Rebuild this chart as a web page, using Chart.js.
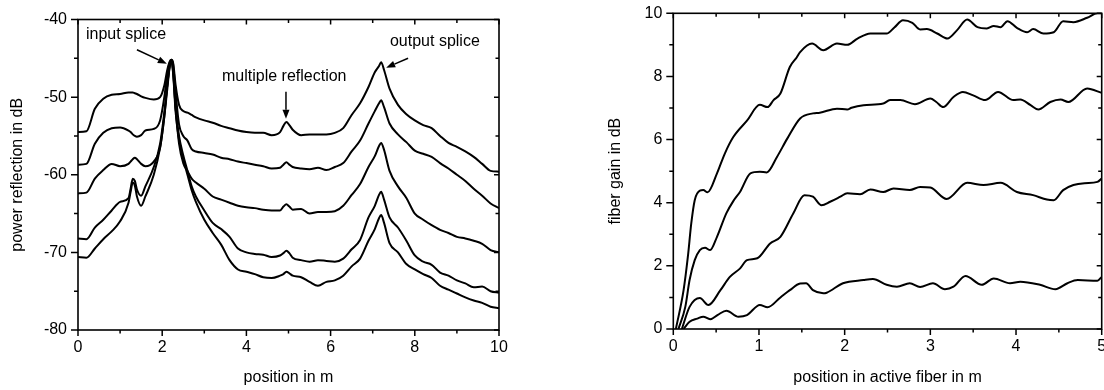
<!DOCTYPE html>
<html><head><meta charset="utf-8">
<script src="https://cdn.jsdelivr.net/npm/chart.js@4"></script>
<style>
html,body{margin:0;padding:0;background:#fff;}
#wrap{position:relative;width:1104px;height:390px;overflow:hidden;background:#fff;}
canvas{position:absolute;top:0;}
</style></head><body>
<div id="wrap"><canvas id="c1" width="552" height="390" style="left:0"></canvas><canvas id="c2" width="552" height="390" style="left:552px"></canvas></div>
<script>
// ---------- Left chart: power reflection vs position ----------
const refX = [0,0.2,0.4,0.6,0.8,1.0,1.2,1.25,1.3,1.35,1.4,1.5,1.6,1.8,1.95,2.05,2.12,2.18,2.22,2.26,2.32,2.4,2.5,2.6,2.7,2.8,3.0,3.2,3.4,3.6,3.8,4.0,4.2,4.4,4.6,4.8,4.88,4.95,5.02,5.1,5.3,5.5,5.7,5.9,6.1,6.3,6.5,6.7,6.9,7.05,7.15,7.2,7.27,7.4,7.6,7.8,8.0,8.2,8.4,8.6,8.8,9.0,9.2,9.4,9.6,9.8,10];
const refC1 = [-54.5,-54.4,-51.5,-50.2,-49.7,-49.6,-49.4,-49.4,-49.4,-49.5,-49.6,-49.9,-50.1,-50.3,-50.0,-48.5,-46.5,-45.4,-45.2,-45.6,-48.5,-51.0,-51.8,-52.0,-52.3,-52.6,-53.0,-53.3,-53.7,-54.0,-54.3,-54.5,-54.6,-54.6,-54.9,-54.5,-53.7,-53.2,-53.6,-54.2,-54.9,-54.8,-54.8,-54.8,-54.6,-54.0,-52.3,-50.8,-48.7,-46.8,-46.0,-45.5,-46.5,-48.9,-51.0,-52.2,-53.0,-53.6,-54.0,-55.0,-55.9,-56.4,-57.0,-57.7,-58.6,-59.5,-59.6];
const refC2 = [-58.7,-58.6,-56.0,-54.6,-54.0,-53.9,-54.3,-54.5,-54.8,-55.0,-55.1,-54.9,-54.3,-54.1,-53.0,-50.0,-47.0,-45.5,-45.2,-45.8,-49.5,-53.5,-55.0,-55.6,-56.7,-57.0,-57.2,-57.4,-57.8,-58.0,-58.3,-58.5,-58.7,-58.9,-59.2,-59.1,-58.7,-58.4,-58.7,-59.0,-59.2,-59.3,-59.1,-59.4,-59.0,-58.5,-57.0,-55.6,-53.4,-51.8,-50.8,-50.4,-51.3,-53.4,-54.8,-55.8,-56.9,-57.3,-57.7,-58.5,-59.2,-60.0,-60.8,-61.8,-62.7,-63.7,-64.3];
const refC3 = [-62.4,-62.3,-60.5,-59.4,-58.6,-58.9,-58.6,-58.3,-58.0,-57.8,-58.0,-58.6,-58.9,-58.3,-56.5,-52.5,-48.5,-45.8,-45.3,-46.5,-51.5,-56.0,-58.5,-59.5,-60.5,-61.0,-61.8,-62.8,-63.2,-63.6,-64.0,-64.2,-64.3,-64.5,-64.6,-64.6,-64.1,-63.8,-64.1,-64.5,-64.4,-65.0,-64.8,-64.8,-64.7,-64.0,-62.6,-61.2,-59.0,-57.6,-56.3,-55.9,-56.8,-59.5,-61.5,-63.0,-65.0,-65.8,-66.5,-67.1,-67.5,-68.0,-68.2,-68.5,-68.9,-69.7,-70.0];
const refC4 = [-68.2,-68.3,-66.8,-65.8,-64.6,-63.5,-63.0,-61.8,-60.5,-60.8,-61.9,-62.7,-61.5,-59.0,-56.0,-52.0,-48.5,-46.0,-45.3,-46.8,-51.5,-55.0,-57.5,-59.5,-61.5,-62.8,-64.6,-66.2,-67.0,-68.0,-69.5,-70.0,-70.2,-70.3,-70.6,-70.4,-70.1,-69.8,-70.1,-70.7,-71.0,-71.2,-71.0,-71.1,-71.2,-70.8,-69.6,-68.4,-65.5,-64.0,-62.6,-62.2,-63.2,-65.5,-66.8,-68.5,-70.4,-71.2,-71.6,-72.6,-73.0,-73.6,-74.0,-74.5,-74.4,-75.0,-75.2];
const refC5 = [-70.6,-70.7,-69.5,-68.3,-67.3,-66.0,-63.6,-62.2,-61.0,-61.4,-62.8,-64.0,-62.8,-60.0,-56.5,-52.5,-49.0,-46.0,-45.3,-47.0,-52.0,-55.5,-58.0,-60.0,-62.0,-63.5,-65.8,-67.5,-69.0,-71.0,-72.2,-72.5,-72.8,-73.2,-73.3,-73.0,-72.8,-72.5,-72.7,-73.0,-73.2,-73.8,-74.3,-73.8,-73.6,-73.0,-71.8,-70.8,-68.5,-67.0,-65.6,-65.2,-66.2,-68.8,-70.0,-71.5,-72.2,-72.8,-73.3,-74.3,-74.8,-75.3,-75.8,-76.2,-76.5,-77.0,-77.2];
const refSeries = [refC1, refC2, refC3, refC4, refC5];
const refNotes = [
  {text:'input splice', x:0.19, y:-42.0},
  {text:'multiple reflection', x:3.42, y:-47.4},
  {text:'output splice', x:7.41, y:-42.8}
];
const refArrows = [
  {x0:1.40, y0:-43.9, x1:2.11, y1:-45.7},
  {x0:4.94, y0:-49.3, x1:4.94, y1:-52.8},
  {x0:7.84, y0:-45.0, x1:7.32, y1:-46.2}
];

// ---------- Right chart: fiber gain vs position ----------
const gainXA = [0.03,0.12,0.17,0.21,0.25,0.31,0.35,0.4,0.51,0.6,0.7,0.86,1.01,1.1,1.17,1.25,1.36,1.44,1.48,1.62,1.75,1.91,2.03,2.15,2.3,2.49,2.58,2.68,2.79,2.88,2.96,3.08,3.2,3.31,3.43,3.55,3.66,3.74,3.82,3.9,4.01,4.13,4.2,4.32,4.44,4.55,4.67,4.83,4.95,5.0];
const gainYA = [0,1.23,2.29,3.35,4.08,4.38,4.4,4.33,4.93,5.55,6.08,6.6,7.1,7.03,7.25,7.46,8.3,8.6,8.77,9.04,8.83,9.04,9.0,9.2,9.36,9.36,9.55,9.78,9.7,9.49,9.5,9.36,9.2,9.46,9.8,9.56,9.52,9.6,9.56,9.75,9.54,9.4,9.5,9.36,9.4,9.75,9.72,9.86,10.0,10.0];
const gainXB = [0.06,0.14,0.19,0.25,0.31,0.37,0.43,0.51,0.62,0.7,0.78,0.9,1.01,1.09,1.21,1.33,1.48,1.63,1.71,1.91,2.03,2.08,2.22,2.45,2.53,2.65,2.82,3.0,3.07,3.15,3.27,3.38,3.5,3.64,3.79,3.97,4.05,4.17,4.26,4.4,4.52,4.61,4.83,5.0];
const gainYB = [0,0.7,1.55,2.18,2.5,2.57,2.5,2.92,3.67,4.05,4.35,4.93,4.98,4.96,5.45,6.03,6.67,6.83,6.85,6.98,6.95,7.01,7.09,7.14,7.25,7.25,7.12,7.3,7.19,7.03,7.35,7.51,7.4,7.25,7.51,7.25,7.27,7.09,6.95,7.19,7.27,7.19,7.62,7.48];
const gainXC = [0.1,0.19,0.31,0.41,0.55,0.66,0.78,0.86,0.98,1.13,1.25,1.4,1.53,1.63,1.73,1.83,1.95,2.03,2.18,2.3,2.45,2.57,2.76,2.88,3.0,3.19,3.43,3.62,3.82,4.01,4.2,4.36,4.44,4.55,4.67,4.8,4.95,5.0];
const gainYC = [0,0.7,0.98,0.76,1.23,1.65,1.92,2.18,2.24,2.71,2.92,3.66,4.24,4.19,3.92,4.03,4.19,4.3,4.27,4.42,4.34,4.45,4.4,4.5,4.48,4.12,4.63,4.56,4.63,4.34,4.24,4.1,4.08,4.4,4.56,4.62,4.66,4.77];
const gainXD = [0.12,0.19,0.28,0.35,0.43,0.52,0.62,0.76,0.86,1.01,1.1,1.25,1.36,1.48,1.55,1.63,1.75,1.79,1.98,2.22,2.33,2.49,2.61,2.76,2.88,3.03,3.17,3.27,3.41,3.6,3.74,3.93,4.05,4.28,4.46,4.6,4.72,4.95,5.0];
const gainYD = [0,0.23,0.33,0.39,0.31,0.45,0.58,0.39,0.44,0.76,0.69,1.0,1.23,1.44,1.45,1.23,1.13,1.15,1.45,1.55,1.58,1.4,1.34,1.45,1.33,1.45,1.26,1.34,1.68,1.4,1.6,1.45,1.5,1.4,1.26,1.45,1.55,1.53,1.65];
const gainSeries = [[gainXA,gainYA],[gainXB,gainYB],[gainXC,gainYC],[gainXD,gainYD]];

const FONT = {family: 'Arial, "Liberation Sans", Helvetica, sans-serif', size: 16};
Chart.defaults.font = FONT;
Chart.defaults.color = '#000';

function isMajor(v, step){ const r = v/step; return Math.abs(r - Math.round(r)) < 1e-6; }

const framePlugin = {
  id: 'frame',
  afterDatasetsDraw(chart, args, opts) {
    const ctx = chart.ctx, a = chart.chartArea;
    const xs = chart.scales.x, ys = chart.scales.y;
    ctx.save();
    ctx.strokeStyle = '#000';
    ctx.lineWidth = 1.5;
    ctx.beginPath();
    xs.ticks.forEach(t => {
      const p = xs.getPixelForValue(t.value);
      const m = isMajor(t.value, opts.xMajor);
      ctx.moveTo(p, a.bottom); ctx.lineTo(p, a.bottom + (m ? 6 : 3.5));
      ctx.moveTo(p, a.top); ctx.lineTo(p, a.top + (m ? 5 : 3.5));
    });
    ys.ticks.forEach(t => {
      const p = ys.getPixelForValue(t.value);
      const m = isMajor(t.value, opts.yMajor);
      ctx.moveTo(a.left, p); ctx.lineTo(a.left - (m ? 7 : 4), p);
      ctx.moveTo(a.right, p); ctx.lineTo(a.right - (m ? 5 : 3.5), p);
    });
    ctx.stroke();
    ctx.lineWidth = 1.6;
    ctx.strokeRect(a.left, a.top, a.right - a.left, a.bottom - a.top);
    ctx.restore();
  }
};

const notePlugin = {
  id: 'notes',
  afterDatasetsDraw(chart, args, opts) {
    if (!opts.labels) return;
    const ctx = chart.ctx, xs = chart.scales.x, ys = chart.scales.y;
    ctx.save();
    ctx.fillStyle = '#000';
    ctx.strokeStyle = '#000';
    ctx.font = '16px Arial, "Liberation Sans", sans-serif';
    ctx.textAlign = 'left';
    ctx.textBaseline = 'middle';
    opts.labels.forEach(n => ctx.fillText(n.text, xs.getPixelForValue(n.x), ys.getPixelForValue(n.y)));
    ctx.lineWidth = 1.5;
    opts.arrows.forEach(r => {
      const x0 = xs.getPixelForValue(r.x0), y0 = ys.getPixelForValue(r.y0);
      const x1 = xs.getPixelForValue(r.x1), y1 = ys.getPixelForValue(r.y1);
      const ang = Math.atan2(y1 - y0, x1 - x0), L = 9, W = 3.5;
      const bx = x1 - L*Math.cos(ang), by = y1 - L*Math.sin(ang);
      ctx.beginPath(); ctx.moveTo(x0, y0); ctx.lineTo(bx, by); ctx.stroke();
      ctx.beginPath();
      ctx.moveTo(x1, y1);
      ctx.lineTo(bx + W*Math.sin(ang), by - W*Math.cos(ang));
      ctx.lineTo(bx - W*Math.sin(ang), by + W*Math.cos(ang));
      ctx.closePath(); ctx.fill();
    });
    ctx.restore();
  }
};

function lineDs(points){
  return {data: points, borderColor:'#000', borderWidth:2, pointRadius:0, fill:false,
          tension:0.4, cubicInterpolationMode:'monotone'};
}

function makeChart(id, cfg){
  return new Chart(document.getElementById(id), {
    type: 'line',
    data: {datasets: cfg.datasets},
    plugins: [framePlugin, notePlugin],
    options: {
      responsive: false, animation: false, devicePixelRatio: 1,
      layout: {padding: cfg.padding},
      plugins: {legend:{display:false}, tooltip:{enabled:false},
        frame: {xMajor: cfg.xMajor, yMajor: cfg.yMajor},
        notes: cfg.notes || {}},
      scales: {
        x: {type:'linear', min: cfg.xMin, max: cfg.xMax,
          grid:{display:true, drawOnChartArea:false, drawTicks:false},
          border:{display:false},
          ticks:{stepSize: cfg.xStep, autoSkip:false, maxRotation:0, padding:8,
            callback: v => isMajor(v, cfg.xMajor) ? String(v) : ''},
          title:{display:true, text: cfg.xTitle, padding:{top:0, bottom:3}},
          afterFit: s => { s.height = cfg.xH; s.paddingLeft = 0; s.paddingRight = 0; }
        },
        y: {type:'linear', min: cfg.yMin, max: cfg.yMax,
          grid:{display:true, drawOnChartArea:false, drawTicks:false},
          border:{display:false},
          ticks:{stepSize: cfg.yStep, autoSkip:false, padding:11,
            callback: v => isMajor(v, cfg.yMajor) ? String(v) : ''},
          title:{display:true, text: cfg.yTitle, padding:{top: cfg.yTitlePad, bottom:0}},
          afterFit: s => { s.width = cfg.yW; s.paddingTop = 0; s.paddingBottom = 0; }
        }
      }
    }
  });
}

makeChart('c1', {
  datasets: refSeries.map(ys => lineDs(refX.map((x, i) => ({x, y: ys[i]})))),
  padding: {left:0, top:19.5, right:53, bottom:0},
  xMin:0, xMax:10, xStep:1, xMajor:2, xTitle:'position in m', xH:60,
  yMin:-80, yMax:-40, yStep:5, yMajor:10, yTitle:'power reflection in dB', yW:78, yTitlePad:8,
  notes: {labels: refNotes, arrows: refArrows}
});

makeChart('c2', {
  datasets: gainSeries.map(([xs, ys]) => lineDs(xs.map((x, i) => ({x, y: ys[i]})))),
  padding: {left:0, top:13.3, right:2.3, bottom:0},
  xMin:0, xMax:5, xStep:0.5, xMajor:1, xTitle:'position in active fiber in m', xH:61,
  yMin:0, yMax:10, yStep:1, yMajor:2, yTitle:'fiber gain in dB', yW:121.3, yTitlePad:54
});
</script>
</body></html>
